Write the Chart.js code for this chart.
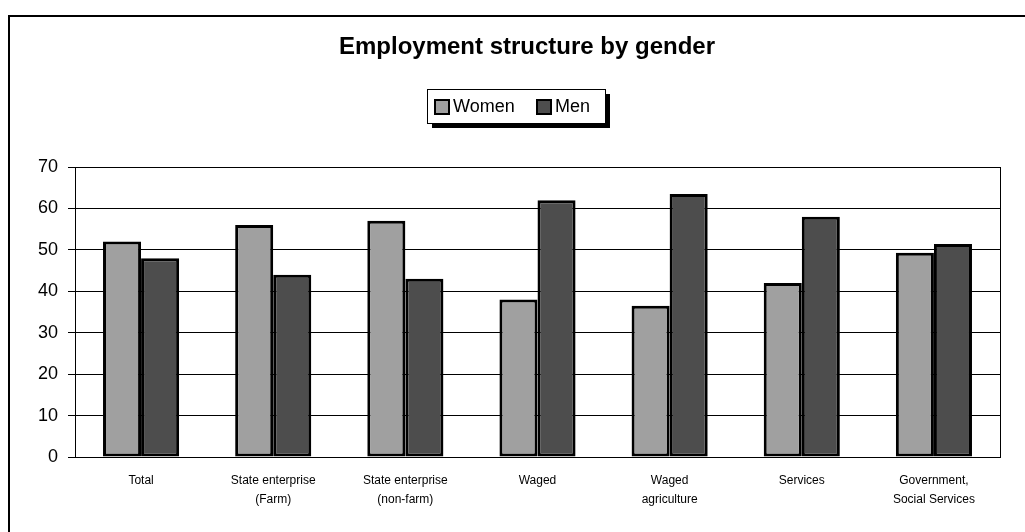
<!DOCTYPE html>
<html>
<head>
<meta charset="utf-8">
<script src="https://cdn.jsdelivr.net/npm/chart.js@4/dist/chart.umd.min.js"></script>
<style>
html,body{margin:0;padding:0;background:#fff;}
#wrap{width:1025px;height:532px;position:relative;}
</style>
</head>
<body>
<div id="wrap"><canvas id="c" width="1025" height="532"></canvas></div>
<script>
const categories = [
  "Total",
  ["State enterprise", "(Farm)"],
  ["State enterprise", "(non-farm)"],
  "Waged",
  ["Waged", "agriculture"],
  "Services",
  ["Government,", "Social Services"]
];
const women = [52, 56, 57, 38, 36.5, 42, 49.3];
const men = [48, 44, 43, 62, 63.5, 58, 51.4];
const yTicks = [0, 10, 20, 30, 40, 50, 60, 70];
const titleText = "Employment structure by gender";

const FONT = "'Liberation Sans', Arial, sans-serif";

const decor = {
  id: 'decor',
  beforeDraw(chart) {
    const ctx = chart.ctx;
    ctx.save();
    ctx.fillStyle = '#fff';
    ctx.fillRect(0, 0, chart.width, chart.height);
    ctx.strokeStyle = '#000';
    ctx.lineWidth = 2;
    ctx.strokeRect(9, 16, 1200, 800);
    ctx.restore();
  },
  afterDraw(chart) {
    const ctx = chart.ctx;
    const a = chart.chartArea;
    ctx.save();
    // right border of plot
    ctx.strokeStyle = '#000';
    ctx.lineWidth = 1;
    ctx.beginPath();
    ctx.moveTo(Math.round(a.right) + 0.5, a.top);
    ctx.lineTo(Math.round(a.right) + 0.5, a.bottom);
    ctx.stroke();
    // title
    ctx.fillStyle = '#000';
    ctx.font = "bold 24px " + FONT;
    ctx.textAlign = 'center';
    ctx.textBaseline = 'middle';
    ctx.fillText(titleText, 527, 47);
    // legend
    const lx = 427, ly = 89, lw = 178, lh = 34;
    ctx.fillStyle = '#000';
    ctx.fillRect(lx + 5, ly + 5, lw, lh);
    ctx.fillStyle = '#fff';
    ctx.fillRect(lx, ly, lw, lh);
    ctx.strokeStyle = '#000';
    ctx.lineWidth = 1;
    ctx.strokeRect(lx + 0.5, ly + 0.5, lw, lh);
    ctx.font = "18px " + FONT;
    ctx.textAlign = 'left';
    ctx.textBaseline = 'middle';
    const xs = [435, 537];
    const cy = ly + 18;
    chart.data.datasets.forEach((ds, i) => {
      const x = xs[i];
      ctx.fillStyle = ds.backgroundColor;
      ctx.fillRect(x, cy - 7, 14, 14);
      ctx.lineWidth = 2;
      ctx.strokeStyle = '#000';
      ctx.strokeRect(x, cy - 7, 14, 14);
      ctx.fillStyle = '#000';
      ctx.fillText(ds.label, x + 18, cy);
    });
    ctx.restore();
  }
};

new Chart(document.getElementById('c'), {
  type: 'bar',
  data: {
    labels: categories,
    datasets: [
      { label: 'Women', data: women, backgroundColor: '#A0A0A0', borderColor: '#000', borderWidth: 3, borderSkipped: false },
      { label: 'Men', data: men, backgroundColor: '#4D4D4D', borderColor: '#000', borderWidth: 3, borderSkipped: false }
    ]
  },
  options: {
    responsive: false,
    animation: false,
    devicePixelRatio: 1,
    layout: { padding: { top: 167, left: 8, right: 25, bottom: 0 } },
    datasets: { bar: { categoryPercentage: 0.576, barPercentage: 1.0 } },
    plugins: { legend: { display: false }, title: { display: false }, tooltip: { enabled: false } },
    scales: {
      x: {
        afterFit(s) { s.height = 75; },
        grid: { display: false, drawTicks: false },
        border: { display: true, color: '#000', width: 1 },
        ticks: { color: '#000', font: { family: FONT, size: 12, lineHeight: '19px' }, padding: 14, maxRotation: 0, autoSkip: false }
      },
      y: {
        min: 0, max: 70,
        afterFit(s) { s.width = 67; },
        afterBuildTicks(s) { s.ticks = yTicks.map(v => ({ value: v })); },
        grid: { color: '#000', lineWidth: 1, tickLength: 7, drawTicks: true },
        border: { display: true, color: '#000', width: 1 },
        ticks: { color: '#000', font: { family: FONT, size: 18 }, padding: 10 }
      }
    }
  },
  plugins: [decor]
});
</script>
</body>
</html>
